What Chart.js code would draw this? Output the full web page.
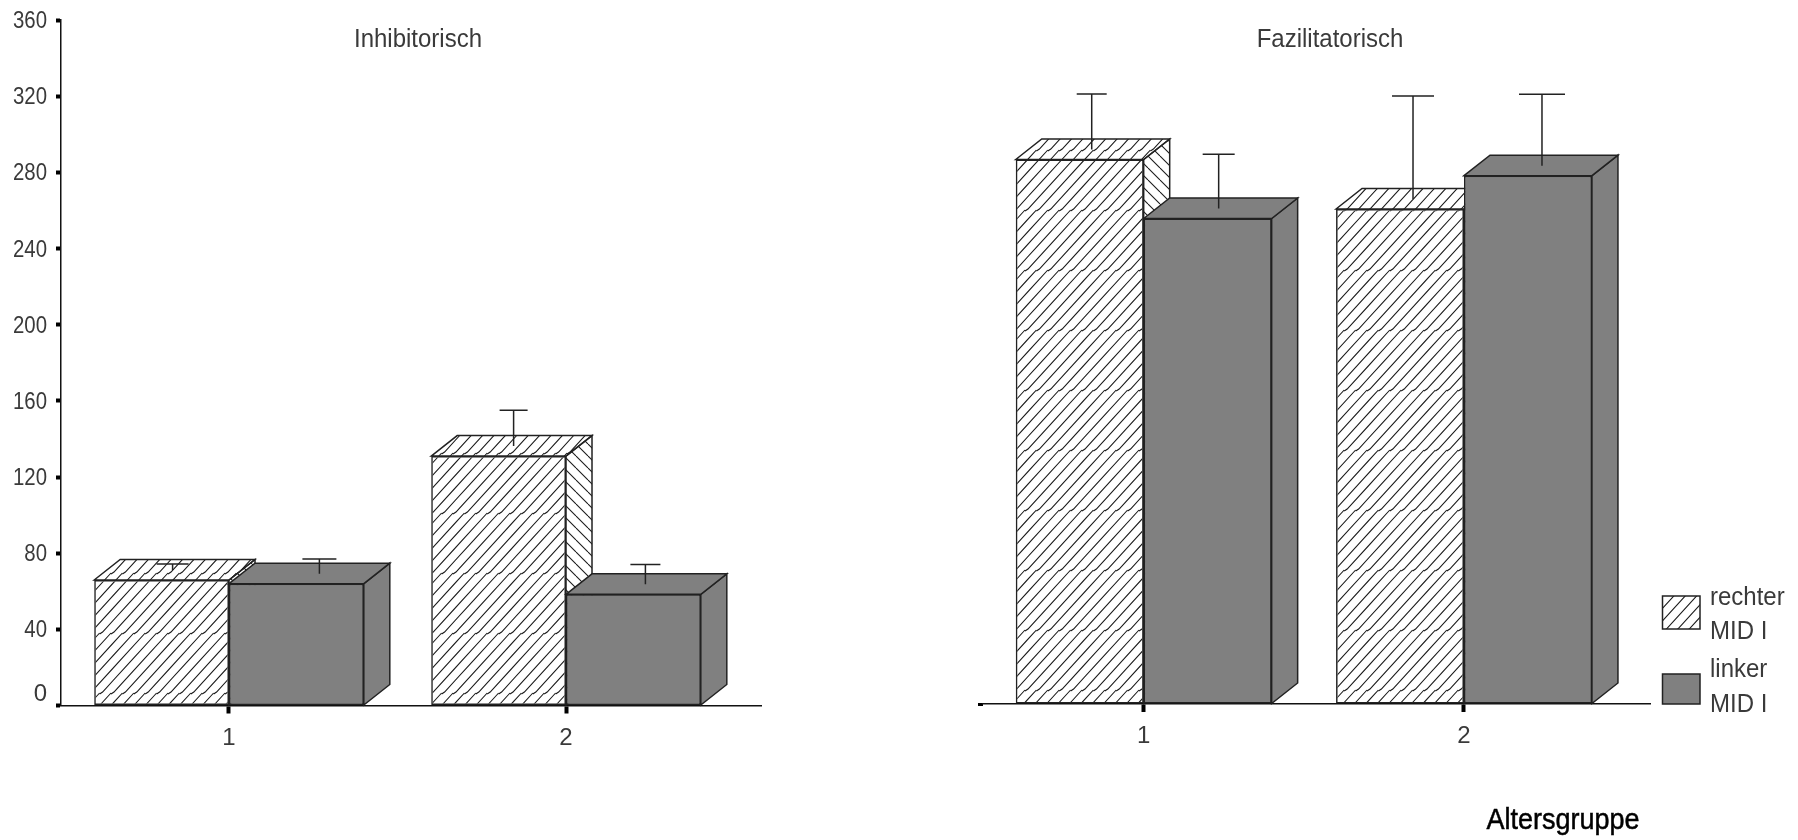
<!DOCTYPE html>
<html><head><meta charset="utf-8">
<style>
html,body{margin:0;padding:0;background:#fff;overflow:hidden}
canvas{position:absolute;top:0;display:block}
</style>
<script src="https://cdn.jsdelivr.net/npm/chart.js@4"></script>
</head><body>
<canvas id="left" width="800" height="840" style="left:0"></canvas>
<canvas id="right" width="998" height="840" style="left:800px"></canvas>
<script>
const categories = [1, 2];
const seriesNames = ['rechter MID I', 'linker MID I'];
const inhibRight = [65.9, 131];
const inhibLeft = [64, 58.4];
const inhibRightErr = [74.3, 155];
const inhibLeftErr = [77, 74];
const fazilRight = [286, 260];
const fazilLeft = [255, 277.5];
const fazilRightErr = [320.4, 319.3];
const fazilLeftErr = [288.7, 320.2];

const FONT = '"Liberation Sans",Arial,sans-serif';
const INK = '#222', GREY = '#808080', TEXT = '#3a3a3a';
const DEPTH_X = 26, DEPTH_Y = 20.5;

function tile(w, h, draw) {
  const c = document.createElement('canvas');
  c.width = w; c.height = h;
  const x = c.getContext('2d');
  x.strokeStyle = '#1a1a1a'; x.lineWidth = 1.1;
  draw(x);
  return x.createPattern(c, 'repeat');
}
function hatch(jogY) {
  return tile(57, 60, x => {
    for (const Y of [jogY - 60, jogY, jogY + 60, jogY + 120]) {
      for (let k = -12; k < 16; k++) {
        const x0 = k * 11.4;
        x.beginPath();
        x.moveTo(x0 - 3, Y + 1);
        x.lineTo(x0, Y - 1);
        x.lineTo(x0 + 54, Y - 60);
        x.stroke();
      }
    }
  });
}
const sideHatch = tile(12, 12, x => {
  for (const o of [-12, 0, 12]) {
    x.beginPath(); x.moveTo(o, 0); x.lineTo(o + 12, 12); x.stroke();
  }
});

function poly(ctx, pts, fill) {
  ctx.beginPath();
  pts.forEach((p, i) => i ? ctx.lineTo(p[0], p[1]) : ctx.moveTo(p[0], p[1]));
  ctx.closePath();
  ctx.fillStyle = fill; ctx.fill();
  ctx.strokeStyle = INK; ctx.lineWidth = 1.5; ctx.stroke();
}
function faces(ctx, el, topFill, sideFill) {
  const l = el.x - el.width / 2, r = el.x + el.width / 2, t = el.y, b = el.base;
  poly(ctx, [[r, t], [r + DEPTH_X, t - DEPTH_Y], [r + DEPTH_X, b - DEPTH_Y], [r, b]], sideFill);
  poly(ctx, [[l, t], [l + DEPTH_X, t - DEPTH_Y], [r + DEPTH_X, t - DEPTH_Y], [r, t]], topFill);
}

const bars3d = {
  id: 'bars3d',
  beforeInit(chart) {
    // the reference's digits are set narrower than the installed sans
    const ctx = chart.ctx, fill = ctx.fillText;
    ctx.fillText = function (t, x, y) {
      if (!/^\d{2,3}$/.test(String(t))) return fill.call(ctx, t, x, y);
      ctx.save(); ctx.translate(x, y + 1.5); ctx.scale(0.85, 1);
      fill.call(ctx, t, 0, 0);
      ctx.restore();
    };
  },
  beforeDatasetsDraw(chart) {
    chart.getDatasetMeta(0).data.forEach(el => faces(chart.ctx, el, chart.options.plugins.bars3d.pattern, sideHatch));
  },
  afterDatasetsDraw(chart, _a, o) {
    const ctx = chart.ctx, y = chart.scales.y;
    const grey = chart.getDatasetMeta(1).data;
    grey.forEach(el => { faces(ctx, el, GREY, GREY); el.draw(ctx); });
    // error whiskers
    ctx.strokeStyle = INK; ctx.lineWidth = 1.5;
    [0, 1].forEach(ds => {
      chart.getDatasetMeta(ds).data.forEach((el, i) => {
        const sx = el.x + o.stemShift[ds][i], top = y.getPixelForValue(o.errors[ds][i]);
        ctx.beginPath();
        ctx.moveTo(sx, el.y - 10); ctx.lineTo(sx, top);
        ctx.moveTo(sx - o.capHalf[ds][i], top); ctx.lineTo(sx + o.capHalf[ds][i], top);
        ctx.stroke();
      });
    });
    // panel title and other annotations
    ctx.textBaseline = 'middle';
    (o.texts || []).forEach(t => {
      ctx.save();
      ctx.font = t.font; ctx.fillStyle = t.color; ctx.textAlign = t.align;
      ctx.translate(t.x, t.y); ctx.scale(t.sx || 1, 1);
      ctx.fillText(t.text, 0, 0);
      if (t.heavy) { ctx.strokeStyle = t.color; ctx.lineWidth = t.heavy; ctx.strokeText(t.text, 0, 0); }
      ctx.restore();
    });
    (o.boxes || []).forEach(bx => {
      ctx.fillStyle = bx.fill; ctx.fillRect(bx.x, bx.y, bx.w, bx.h);
      ctx.strokeStyle = INK; ctx.lineWidth = 1.5; ctx.strokeRect(bx.x, bx.y, bx.w, bx.h);
    });
  }
};

function panel(id, cfg) {
  const [d0, d1] = cfg.values;
  return new Chart(document.getElementById(id), {
    type: 'bar',
    plugins: [bars3d],
    data: {
      datasets: [
        { label: seriesNames[0], data: categories.map((c, i) => ({ x: c, y: d0[i] })), backgroundColor: cfg.pattern, borderColor: INK, borderWidth: 1.5, borderSkipped: false },
        { label: seriesNames[1], data: categories.map((c, i) => ({ x: c, y: d1[i] })), backgroundColor: GREY, borderColor: INK, borderWidth: 1.5, borderSkipped: false }
      ]
    },
    options: {
      responsive: false, animation: false, events: [],
      layout: { padding: cfg.padding },
      datasets: { bar: { categoryPercentage: cfg.catPct, barPercentage: 1 } },
      plugins: {
        legend: { display: false }, tooltip: { enabled: false },
        bars3d: { pattern: cfg.pattern, errors: cfg.errors, stemShift: cfg.stemShift, capHalf: cfg.capHalf, texts: cfg.texts, boxes: cfg.boxes }
      },
      scales: {
        x: {
          type: 'linear', min: cfg.xMin, max: cfg.xMax, offset: false,
          afterFit(s) { s.height = cfg.xHeight; },
          border: { color: '#111', width: 1.5 },
          grid: { offset: false, drawOnChartArea: false, tickColor: '#000', tickWidth: 4, tickLength: 8 },
          ticks: { stepSize: 1, includeBounds: false, maxRotation: 0, color: TEXT, padding: 10, font: { family: FONT, size: 24 }, callback: v => String(v) }
        },
        y: {
          min: 0, max: 360,
          afterFit(s) { s.width = cfg.yWidth; },
          afterBuildTicks: cfg.yTicksFilter,
          border: { display: cfg.yBorder, color: '#111', width: 1.5 },
          grid: { drawOnChartArea: false, tickColor: '#000', tickWidth: cfg.yTickW, tickLength: 5 },
          ticks: {
            display: cfg.yLabels, stepSize: 40, color: TEXT, padding: 9, font: { family: FONT, size: 24, lineHeight: 0.9 },
            callback: v => v === 0 ? ['0', ' '] : String(v)
          }
        }
      }
    }
  });
}

const hatchL = hatch(33), hatchR = hatch(30);

panel('left', {
  values: [inhibRight, inhibLeft], errors: [inhibRightErr, inhibLeftErr], pattern: hatchL,
  padding: { top: 20, right: 39 }, xHeight: 134.5, yWidth: 61, yBorder: true, yLabels: true, yTickW: 4,
  xMin: 0.5015, xMax: 2.5786, catPct: 0.8,
  stemShift: [[11, 15], [23, 12]], capHalf: [[16, 14], [17, 15]],
  texts: [{ text: 'Inhibitorisch', x: 418, y: 40, align: 'center', font: '25px ' + FONT, sx: 0.96, color: TEXT }]
});

panel('right', {
  values: [fazilRight, fazilLeft], errors: [fazilRightErr, fazilLeftErr], pattern: hatchR,
  padding: { top: 18.6, right: 147.3 }, xHeight: 136, yWidth: 183, yBorder: false, yLabels: false, yTickW: 3,
  yTicksFilter: s => { s.ticks = s.ticks.filter(t => t.value === 0); },
  xMin: 0.4983, xMax: 2.5829, catPct: 0.799,
  stemShift: [[12, 13], [11, 14]], capHalf: [[15, 21], [16, 23]],
  boxes: [
    { x: 862.5, y: 596, w: 37.5, h: 33, fill: hatchR },
    { x: 862.5, y: 674, w: 37.5, h: 30, fill: GREY }
  ],
  texts: [
    { text: 'Fazilitatorisch', x: 530, y: 40, align: 'center', font: '25px ' + FONT, sx: 0.96, color: TEXT },
    { text: 'rechter', x: 910, y: 598, align: 'left', font: '25px ' + FONT, sx: 0.96, color: TEXT },
    { text: 'MID I', x: 910, y: 632, align: 'left', font: '25px ' + FONT, sx: 0.96, color: TEXT },
    { text: 'linker', x: 910, y: 670, align: 'left', font: '25px ' + FONT, sx: 0.96, color: TEXT },
    { text: 'MID I', x: 910, y: 705, align: 'left', font: '25px ' + FONT, sx: 0.96, color: TEXT },
    { text: 'Altersgruppe', x: 763, y: 821, align: 'center', font: '30px ' + FONT, sx: 0.9, heavy: 0.5, color: '#000' }
  ]
});
</script>
</body></html>
